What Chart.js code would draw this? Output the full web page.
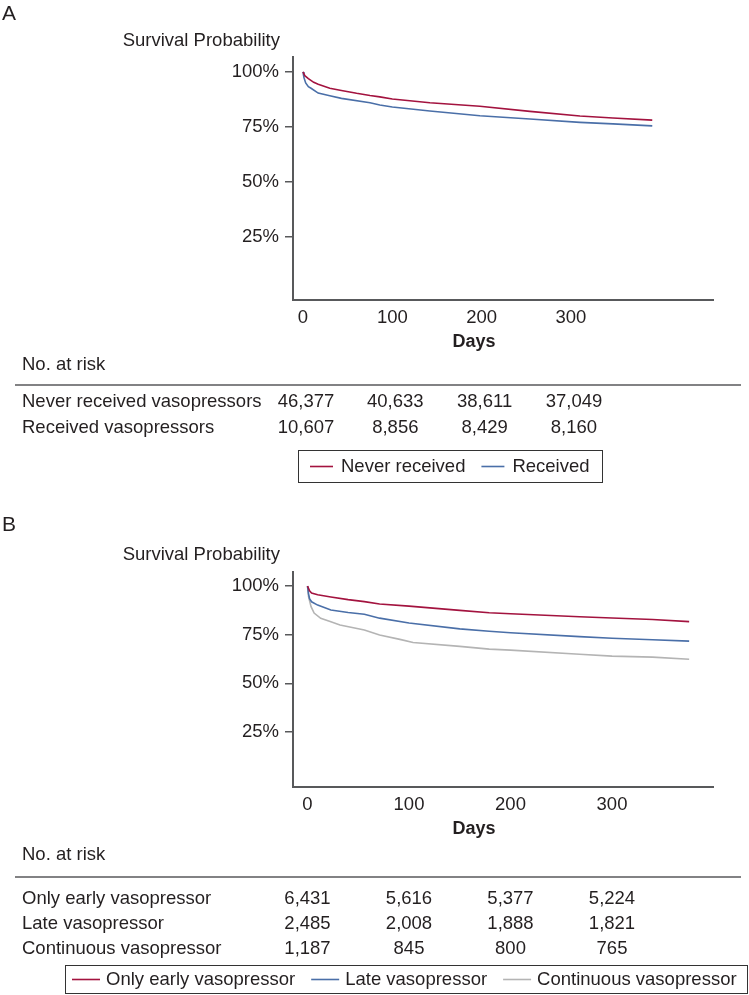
<!DOCTYPE html>
<html><head><meta charset="utf-8">
<script src="https://cdn.jsdelivr.net/npm/chart.js@4.4.1/dist/chart.umd.min.js"></script>
<style>
html,body{margin:0;padding:0;background:#fff;}
#wrap{position:relative;width:749px;height:995px;overflow:hidden;background:#fff;}
canvas{position:absolute;left:0;}
#cA{top:0px}
#cB{top:500px}
</style></head><body>
<div id="wrap"><canvas id="cA" width="749" height="500"></canvas><canvas id="cB" width="749" height="495"></canvas></div>
<script>
// ---------------- DATA ----------------
const dayTicks = [0, 100, 200, 300];
const survTicks = [25, 50, 75, 100];

// Panel A
const aNames = ['Never received', 'Received'];
const aNeverDays = [0, 2, 6, 12, 17, 30, 43, 60, 75, 86, 100, 142, 198, 254, 310, 347, 391];
const aNeverSurv = [100, 98.3, 97, 95.3, 94.4, 92.6, 91.6, 90.3, 89.3, 88.7, 87.7, 86, 84.4, 82.1, 80, 79.1, 78.1];
const aRecDays = [0, 1, 3, 6, 9, 17, 30, 43, 75, 86, 100, 142, 198, 254, 310, 347, 391];
const aRecSurv = [100, 97.5, 95, 93.3, 92.6, 90.4, 89.2, 88, 86, 85, 84.1, 82.3, 80.1, 78.6, 77.1, 76.4, 75.5];
const aRiskRows = ['Never received vasopressors', 'Received vasopressors'];
const aRiskNever = ['46,377', '40,633', '38,611', '37,049'];
const aRiskRec = ['10,607', '8,856', '8,429', '8,160'];

// Panel B
const bNames = ['Only early vasopressor', 'Late vasopressor', 'Continuous vasopressor'];
const bEarlyDays = [0, 2, 4, 10, 23, 40, 56, 71, 100, 150, 179, 200, 268, 300, 340, 376];
const bEarlySurv = [100, 97.5, 96.4, 95.5, 94.4, 93, 92, 90.8, 89.7, 87.5, 86.3, 85.8, 84.2, 83.6, 82.8, 81.7];
const bLateDays = [0, 1, 2, 4, 10, 23, 40, 56, 71, 100, 150, 179, 200, 268, 300, 340, 376];
const bLateSurv = [100, 96, 93.5, 91.9, 90.2, 87.7, 86.4, 85.5, 83.5, 81, 78, 76.8, 76, 74, 73.2, 72.4, 71.7];
const bContDays = [0, 1, 3.5, 6.5, 13, 23, 32, 56, 71, 91, 104, 150, 179, 200, 268, 300, 340, 376];
const bContSurv = [100, 94.5, 89.4, 86.1, 83.4, 81.6, 80, 77.4, 74.8, 72.6, 71, 69, 67.6, 67.1, 65, 64, 63.5, 62.4];
const bRiskRows = ['Only early vasopressor', 'Late vasopressor', 'Continuous vasopressor'];
const bRiskEarly = ['6,431', '5,616', '5,377', '5,224'];
const bRiskLate = ['2,485', '2,008', '1,888', '1,821'];
const bRiskCont = ['1,187', '845', '800', '765'];

// ---------------- STYLE ----------------
const FONT = '"Liberation Sans", Arial, Helvetica, sans-serif';
const TXT = '#231f20';
const AXIS = '#58595b';
const RED = '#a3133f';
const BLUE = '#4a6fa8';
const GRAY = '#b4b4b4';
const FS = '18.5px ';

function pts(d, s) { return d.map((x, i) => ({ x: x, y: s[i] })); }
function ds(label, d, s, color) {
  return { label, data: pts(d, s), borderColor: color, backgroundColor: color, borderWidth: 1.6,
    pointRadius: 0, tension: 0, fill: false };
}

function panelPlugin(cfg) {
  return {
    id: 'panel' + cfg.letter,
    afterDraw(chart) {
      const ctx = chart.ctx;
      const xs = chart.scales.x;
      ctx.save();
      ctx.fillStyle = TXT;
      ctx.textBaseline = 'middle';
      // letter
      ctx.font = '21px ' + FONT;
      ctx.textAlign = 'left';
      ctx.fillText(cfg.letter, 2, cfg.letterY);
      // y title
      ctx.font = FS + FONT;
      ctx.textAlign = 'right';
      ctx.fillText('Survival Probability', 280, cfg.titleY);
      // x title
      ctx.font = 'bold 18px ' + FONT;
      ctx.textAlign = 'center';
      ctx.fillText('Days', 474, cfg.daysY);
      // risk table
      ctx.font = FS + FONT;
      ctx.textAlign = 'left';
      ctx.fillText('No. at risk', 22, cfg.riskY);
      ctx.strokeStyle = AXIS;
      ctx.lineWidth = 1.5;
      ctx.beginPath();
      ctx.moveTo(15, cfg.lineY);
      ctx.lineTo(741, cfg.lineY);
      ctx.stroke();
      cfg.rows.forEach((r, i) => {
        const y = cfg.rowY[i];
        ctx.textAlign = 'left';
        ctx.fillText(r.label, 22, y);
        ctx.textAlign = 'center';
        r.values.forEach((v, j) => {
          ctx.fillText(v, xs.getPixelForValue(dayTicks[j]) + cfg.numShift, y);
        });
      });
      // legend
      const lg = cfg.legend;
      ctx.strokeStyle = '#333';
      ctx.lineWidth = 1;
      ctx.strokeRect(lg.x + 0.5, lg.y + 0.5, lg.w, lg.h);
      let x = lg.x + lg.pad;
      const ly = lg.y + lg.h / 2 + 0.5;
      chart.data.datasets.forEach((d, i) => {
        ctx.strokeStyle = d.borderColor;
        ctx.lineWidth = 1.6;
        ctx.beginPath();
        ctx.moveTo(x, ly);
        ctx.lineTo(x + lg.sample, ly);
        ctx.stroke();
        x += lg.sample + lg.gap;
        ctx.fillStyle = TXT;
        ctx.textAlign = 'left';
        ctx.fillText(d.label, x, ly);
        x += ctx.measureText(d.label).width + lg.itemGap;
      });
      ctx.restore();
    }
  };
}

function makeChart(id, datasets, xr, yr, pad, cfg) {
  return new Chart(document.getElementById(id), {
    type: 'line',
    data: { datasets },
    options: {
      responsive: false, animation: false, devicePixelRatio: 1,
      layout: { padding: pad },
      plugins: { legend: { display: false }, tooltip: { enabled: false } },
      scales: {
        x: {
          type: 'linear', min: xr[0], max: xr[1],
          afterBuildTicks: s => { s.ticks = dayTicks.map(v => ({ value: v })); },
          afterFit: s => { s.height = 40; },
          grid: { display: false, drawTicks: false },
          border: { display: true, color: AXIS, width: 2 },
          ticks: { padding: 7, color: TXT, font: { family: FONT, size: 18.5 }, maxRotation: 0, autoSkip: false,
            callback: v => String(v) }
        },
        y: {
          type: 'linear', min: yr[0], max: yr[1],
          afterBuildTicks: s => { s.ticks = survTicks.map(v => ({ value: v })); },
          afterFit: s => { s.width = 293; },
          grid: { display: true, drawOnChartArea: false, drawTicks: true, tickLength: 8, color: AXIS, lineWidth: 1.5 },
          border: { display: true, color: AXIS, width: 2 },
          ticks: { padding: 6, color: TXT, font: { family: FONT, size: 18.5 }, autoSkip: false,
            callback: v => v + '%' }
        }
      }
    },
    plugins: [panelPlugin(cfg)]
  });
}

makeChart('cA',
  [ds(aNames[0], aNeverDays, aNeverSurv, RED), ds(aNames[1], aRecDays, aRecSurv, BLUE)],
  [-11.2, 459], [-3.6, 106.8],
  { top: 57, right: 36, bottom: 160, left: 0 },
  { letter: 'A', letterY: 14, titleY: 41, daysY: 342, riskY: 365, lineY: 385, rowY: [402, 428], numShift: 3,
    rows: [{ label: aRiskRows[0], values: aRiskNever }, { label: aRiskRows[1], values: aRiskRec }],
    legend: { x: 298, y: 450, w: 304, h: 32, pad: 12, sample: 23, gap: 8, itemGap: 16 } });

makeChart('cB',
  [ds(bNames[0], bEarlyDays, bEarlySurv, RED), ds(bNames[1], bLateDays, bLateSurv, BLUE), ds(bNames[2], bContDays, bContSurv, GRAY)],
  [-14.3, 399.5], [-3.2, 107.2],
  { top: 72, right: 36, bottom: 168, left: 0 },
  { letter: 'B', letterY: 25, titleY: 55, daysY: 329, riskY: 355, lineY: 377, rowY: [399, 424, 449], numShift: 0,
    rows: [{ label: bRiskRows[0], values: bRiskEarly }, { label: bRiskRows[1], values: bRiskLate }, { label: bRiskRows[2], values: bRiskCont }],
    legend: { x: 65, y: 465, w: 682, h: 28, pad: 7, sample: 28, gap: 6, itemGap: 16 } });
</script>
</body></html>
